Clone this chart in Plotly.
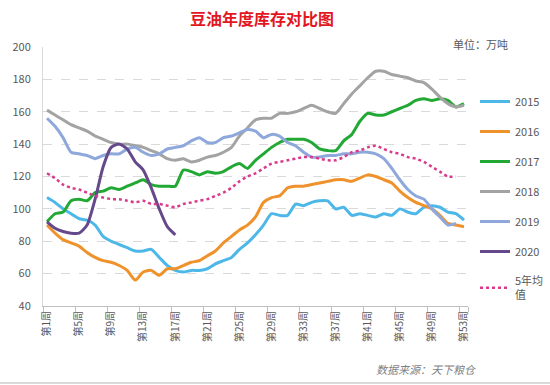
import plotly.graph_objects as go

weeks = [f"第{i}周" for i in range(1, 54)]
tick_weeks = [f"第{i}周" for i in range(1, 54, 4)]

s2015 = [107, 104, 100, 97, 94, 93, 90, 83, 80, 78, 76, 74, 74, 75, 70, 65, 62, 61, 62, 62,
         63, 66, 68, 70, 75, 79, 84, 90, 97, 96, 96, 103, 102, 104, 105, 105, 100, 101, 96, 97,
         96, 95, 97, 96, 100, 98, 97, 101, 102, 101, 98, 97, 93]
s2016 = [90, 85, 81, 79, 77, 73, 70, 68, 67, 65, 62, 56, 61, 62, 59, 63, 63, 65, 67, 68,
         71, 74, 79, 83, 87, 90, 95, 104, 107, 108, 113, 114, 114, 115, 116, 117, 118, 118, 117, 119,
         121, 120, 118, 116, 111, 107, 104, 102, 100, 96, 91, 90, 89]
s2017 = [92, 97, 98, 105, 106, 105, 110, 111, 113, 112, 114, 116, 118, 115, 114, 114, 114, 124, 123, 121,
         123, 122, 123, 126, 128, 125, 130, 134, 138, 141, 143, 143, 143, 141, 137, 136, 136, 142, 146, 154,
         159, 158, 158, 160, 162, 164, 167, 168, 167, 168, 167, 163, 165]
s2018 = [161, 158, 155, 152, 150, 148, 145, 143, 141, 140, 140, 139, 138, 136, 134, 131, 130, 131, 129, 130,
         132, 133, 135, 138, 145, 150, 155, 156, 156, 159, 159, 160, 162, 164, 162, 160, 159, 165, 171, 176,
         181, 185, 185, 183, 182, 181, 179, 178, 174, 169, 165, 163, 164]
s2019 = [156, 151, 144, 135, 134, 133, 131, 133, 134, 134, 137, 138, 135, 133, 134, 137, 138, 139, 142, 144,
         141, 141, 144, 145, 147, 149, 148, 144, 146, 145, 141, 139, 135, 132, 132, 133, 133, 134, 134, 135,
         135, 134, 131, 125, 118, 112, 108, 106, 100, 95, 90, 91, None]
s2020 = [92, 88, 86, 85, 85, 90, 106, 126, 138, 140, 137, 129, 124, 113, 100, 89, 84]
avg5 = [122, 119, 115, 113, 112, 110, 108, 107, 106, 106, 105, 104, 105, 103, 103, 102, 101, 103, 104, 105,
        106, 108, 110, 113, 117, 120, 122, 125, 128, 129, 130, 131, 132, 132, 131, 130, 130, 132, 135, 136,
        138, 139, 137, 135, 134, 132, 131, 129, 126, 123, 120, 120, None]

series = [
    ("2015", s2015, "#4DB8E8", "solid"),
    ("2016", s2016, "#F0922B", "solid"),
    ("2017", s2017, "#22A834", "solid"),
    ("2018", s2018, "#A3A3A3", "solid"),
    ("2019", s2019, "#8EA8DB", "solid"),
    ("2020", s2020, "#65498A", "solid"),
    ("5年均<br>值", avg5, "#D93A8C", "dot"),
]

FONT = "Noto Sans CJK SC, Microsoft YaHei, sans-serif"

fig = go.Figure()
for i, (name, vals, color, dash) in enumerate(series):
    fig.add_trace(go.Scatter(
        x=weeks[:len(vals)], y=vals, name=name, mode="lines",
        line=dict(color=color, width=3 if dash == "solid" else 2.5, dash=dash,
                  shape="spline", smoothing=0.6),
        legendgroup=str(i), connectgaps=False,
    ))

L, R, T, B = 43, 82, 47, 79
PW, PH = 550 - L - R, 385 - T - B

fig.update_layout(
    width=550, height=385,
    margin=dict(l=L, r=R, t=T, b=B, autoexpand=False),
    paper_bgcolor="white", plot_bgcolor="white",
    font=dict(family=FONT, size=11, color="#595959"),
    showlegend=True,
    legend=dict(x=(475 - L) / PW, y=1 - (87 - T) / PH, xanchor="left", yanchor="top",
                font=dict(size=11, color="#595959"),
                tracegroupgap=11, itemwidth=30, bgcolor="rgba(0,0,0,0)"),
    xaxis=dict(type="category", categoryorder="array", categoryarray=weeks,
               range=[-0.5, 52.5], tickvals=tick_weeks, tickangle=-90,
               tickson="boundaries", ticks="outside", ticklen=5, tickcolor="#BFBFBF",
               showline=True, linecolor="#BFBFBF", linewidth=1, automargin=False,
               showgrid=False, tickfont=dict(size=10, color="#595959")),
    yaxis=dict(range=[40, 200], dtick=20, showgrid=True, gridcolor="#D9D9D9",
               griddash="dash", gridwidth=1, showline=True, linecolor="#D9D9D9",
               zeroline=False, automargin=False, ticklabelstandoff=9,
               tickfont=dict(size=11, color="#595959"), ticks=""),
    annotations=[
        dict(text="<b>豆油年度库存对比图</b>", x=(262 - L) / PW, y=1 + (T - 18) / PH,
             xref="paper", yref="paper", xanchor="center", yanchor="middle",
             showarrow=False, font=dict(size=16, color="#E3161F", family=FONT)),
        dict(text="单位：万吨", x=(480 - L) / PW, y=1 + (T - 44) / PH, xref="paper", yref="paper",
             xanchor="center", yanchor="middle", showarrow=False,
             font=dict(size=11, color="#595959")),
        dict(text="<i>数据来源：天下粮仓</i>", x=(478 - L) / PW, y=-(369 - T - PH) / PH,
             xref="paper", yref="paper",
             xanchor="right", yanchor="middle", showarrow=False,
             font=dict(size=11, color="#7F7F7F")),
    ],
    shapes=[dict(type="line", xref="paper", yref="paper", x0=-L / PW, x1=(550 - L) / PW,
                 y0=-(383 - T - PH) / PH, y1=-(383 - T - PH) / PH,
                 line=dict(color="#D9D9D9", width=2))],
)

fig.write_html("out.html",
               config={"displayModeBar": False},
               post_script="document.body.style.margin='0';document.body.style.padding='0';")
